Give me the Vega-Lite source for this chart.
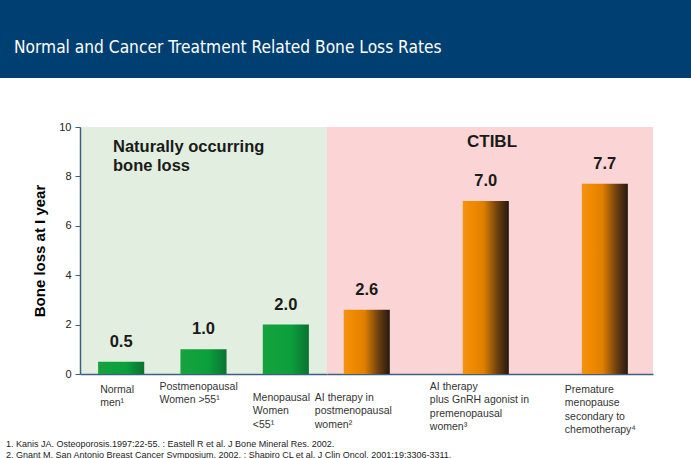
{
  "$schema": "https://vega.github.io/schema/vega-lite/v6.json",
  "padding": 0,
  "background": "#ffffff",
  "config": {"view": {"stroke": null}, "font": "Liberation Sans"},
  "datasets": {
    "bars": [
      {"region": "natural", "label": "Normal\nmen¹", "value": 0.5},
      {"region": "natural", "label": "Postmenopausal\nWomen >55¹", "value": 1.0},
      {"region": "natural", "label": "Menopausal\nWomen\n<55¹", "value": 2.0},
      {"region": "ctibl", "label": "AI therapy in\n postmenopausal\nwomen²", "value": 2.6},
      {"region": "ctibl", "label": "AI therapy\nplus GnRH agonist in\npremenopausal\n women³", "value": 7.0},
      {"region": "ctibl", "label": "Premature\nmenopause\nsecondary to\nchemotherapy⁴", "value": 7.7}
    ]
  },
  "bounds": "flush",
  "spacing": 49,
  "vconcat": [
    {
      "width": 691,
      "height": 78,
      "view": {"fill": "#003f72", "stroke": null},
      "data": {"values": [{"title": "Normal and Cancer Treatment Related Bone Loss Rates"}]},
      "mark": {"type": "text", "align": "left", "baseline": "alphabetic", "dx": 14, "fontSize": 17.2, "font": "'DejaVu Sans Condensed', 'Liberation Sans', sans-serif", "color": "#ffffff"},
      "encoding": {
        "x": {"datum": 0, "type": "quantitative", "scale": {"domain": [0, 1]}, "axis": null},
        "y": {"datum": 0.32, "type": "quantitative", "scale": {"domain": [0, 1]}, "axis": null},
        "text": {"field": "title"}
      }
    },
    {
      "bounds": "full",
      "spacing": 3,
      "vconcat": [
        {
          "bounds": "flush",
          "spacing": 0,
          "resolve": {"scale": {"x": "independent", "y": "independent"}},
          "hconcat": [
            {
              "width": 80,
              "height": 247,
              "data": {"values": []},
              "mark": "point",
              "encoding": {}
            },
            {
              "width": 247,
              "height": 247,
              "view": {"fill": "#e2efe0", "stroke": null},
              "title": {
                "text": ["Naturally occurring", "bone loss"],
                "frame": "group", "anchor": "start", "orient": "top",
                "offset": -53, "dx": 33, "fontSize": 16.5, "fontWeight": "bold", "color": "#1a1a1a", "lineHeight": 19
              },
              "data": {"name": "bars"},
              "transform": [{"filter": "datum.region === 'natural'"}],
              "encoding": {
                "x": {
                  "field": "label", "type": "nominal", "sort": null,
                  "scale": {"paddingInner": 0.44, "paddingOuter": 0.22},
                  "axis": {
                    "title": null, "labelAngle": 0, "labelAlign": "left", "labelBaseline": "top",
                    "labelFontSize": 10.5, "labelColor": "#333333", "labelLineHeight": 13.5,
                    "labelExpr": "split(replace(datum.label, / /g, '\u00a0'), '\\n')", "labelOverlap": false, "labelBound": false, "labelLimit": 0,
                    "ticks": false, "domainColor": "#3d5f80", "domainWidth": 1.5,
                    "labelOffset": {"condition": [
                      {"test": "indexof(datum.value, 'Normal') >= 0", "value": -21},
                      {"test": "indexof(datum.value, 'Postmeno') >= 0", "value": -44}
                    ], "value": -33},
                    "labelPadding": {"condition": [
                      {"test": "indexof(datum.value, 'Normal') >= 0", "value": 10},
                      {"test": "indexof(datum.value, 'Postmeno') >= 0", "value": 7}
                    ], "value": 18}
                  }
                },
                "y": {
                  "field": "value", "type": "quantitative",
                  "scale": {"domain": [0, 10]},
                  "axis": {
                    "values": [0, 2, 4, 6, 8, 10], "grid": false,
                    "domainColor": "#3d5f80", "domainWidth": 1.5, "tickColor": "#3d5f80", "tickSize": 5,
                    "labelFontSize": 11, "labelColor": "#222222", "labelPadding": 4,
                    "title": "Bone loss at I year", "titleFontSize": 15, "titleFontWeight": "bold",
                    "titleColor": "#000000", "titlePadding": 11
                  }
                }
              },
              "layer": [
                {
                  "mark": {"type": "bar", "color": {"gradient": "linear", "x1": 0, "y1": 0, "x2": 1, "y2": 0,
                    "stops": [{"offset": 0, "color": "#16a23f"}, {"offset": 0.6, "color": "#0ba03c"}, {"offset": 1, "color": "#0a7232"}]}}
                },
                {
                  "mark": {"type": "text", "baseline": "bottom", "dy": -12, "fontSize": 16.5, "fontWeight": "bold", "color": "#1a1a1a"},
                  "encoding": {"text": {"field": "value", "type": "quantitative", "format": ".1f"}}
                }
              ]
            },
            {
              "width": 326,
              "height": 247,
              "view": {"fill": "#fbd5d5", "stroke": null},
              "title": {
                "text": "CTIBL",
                "frame": "group", "anchor": "middle", "orient": "top",
                "offset": -24, "dx": 2, "fontSize": 17, "fontWeight": "bold", "color": "#1a1a1a"
              },
              "data": {"name": "bars"},
              "transform": [{"filter": "datum.region === 'ctibl'"}],
              "encoding": {
                "x": {
                  "field": "label", "type": "nominal", "sort": null,
                  "scale": {"paddingInner": 0.613, "paddingOuter": 0.176, "align": 0.4},
                  "axis": {
                    "title": null, "labelAngle": 0, "labelAlign": "left", "labelBaseline": "top",
                    "labelFontSize": 10.5, "labelColor": "#333333", "labelLineHeight": 13.5,
                    "labelExpr": "split(replace(datum.label, / /g, '\u00a0'), '\\n')", "labelOverlap": false, "labelBound": false, "labelLimit": 0,
                    "ticks": false, "domainColor": "#3d5f80", "domainWidth": 1.5,
                    "labelOffset": {"condition": [
                      {"test": "indexof(datum.value, 'AI therapy in') >= 0", "value": -52},
                      {"test": "indexof(datum.value, 'GnRH') >= 0", "value": -56}
                    ], "value": -40},
                    "labelPadding": {"condition": [
                      {"test": "indexof(datum.value, 'AI therapy in') >= 0", "value": 18},
                      {"test": "indexof(datum.value, 'GnRH') >= 0", "value": 7}
                    ], "value": 10}
                  }
                },
                "y": {
                  "field": "value", "type": "quantitative",
                  "scale": {"domain": [0, 10]},
                  "axis": null
                }
              },
              "layer": [
                {
                  "mark": {"type": "bar", "color": {"gradient": "linear", "x1": 0, "y1": 0, "x2": 1, "y2": 0,
                    "stops": [{"offset": 0, "color": "#f29412"}, {"offset": 0.2, "color": "#f08a00"}, {"offset": 0.45, "color": "#e08000"}, {"offset": 0.75, "color": "#6e4010"}, {"offset": 1, "color": "#241a10"}]}}
                },
                {
                  "mark": {"type": "text", "baseline": "bottom", "dy": -12, "fontSize": 16.5, "fontWeight": "bold", "color": "#1a1a1a"},
                  "encoding": {"text": {"field": "value", "type": "quantitative", "format": ".1f"}}
                }
              ]
            }
          ]
        },
        {
          "width": 691,
          "height": 22,
          "data": {"values": [
            {"n": 1, "line": "1.  Kanis JA. Osteoporosis.1997:22-55. : Eastell R et al. J Bone Mineral Res.  2002."},
            {"n": 2, "line": "2.  Gnant M. San Antonio Breast Cancer Symposium, 2002. : Shapiro CL et al. J Clin Oncol. 2001;19:3306-3311."}
          ]},
          "mark": {"type": "text", "align": "left", "baseline": "middle", "dx": 6, "fontSize": 9, "color": "#222222"},
          "encoding": {
            "x": {"datum": 0, "type": "quantitative", "scale": {"domain": [0, 1]}, "axis": null},
            "y": {"field": "n", "type": "ordinal", "axis": null},
            "text": {"field": "line"}
          }
        }
      ]
    }
  ]
}
